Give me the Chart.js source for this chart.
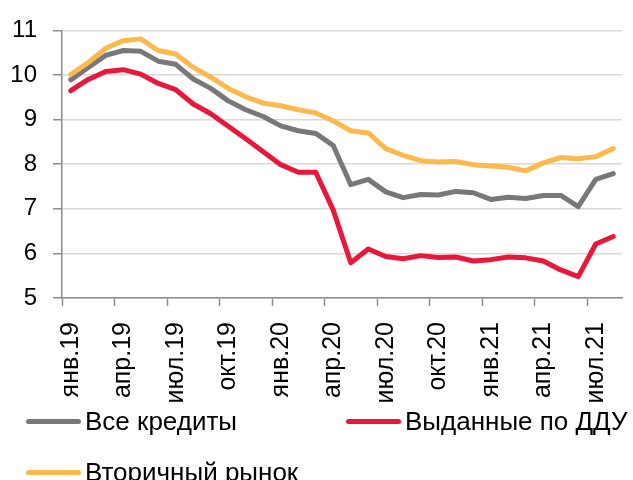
<!DOCTYPE html>
<html lang="ru">
<head>
<meta charset="utf-8">
<script src="https://cdn.jsdelivr.net/npm/chart.js@4"></script>
<style>
  body { margin: 0; background: #fff; }
  .wrap { position: relative; width: 633px; height: 480px; overflow: hidden; font-family: "Liberation Sans", Arial, sans-serif; }
  #legend { position: absolute; left: 26px; top: 409px; display: grid; grid-template-columns: 320px 287px; row-gap: 26px; }
  .item { display: flex; align-items: center; height: 25px; font-size: 26px; white-space: nowrap; color: #000; }
  .swatch { width: 55px; height: 5px; border-radius: 3px; margin-right: 4px; }
</style>
</head>
<body>
<div class="wrap">
  <canvas id="chart" width="633" height="480"></canvas>
  <div id="legend"></div>
</div>
<script>
// months jan 2019 - aug 2021
const months = [
  'янв.19', 'фев.19', 'мар.19', 'апр.19', 'май.19', 'июн.19', 'июл.19', 'авг.19', 'сен.19', 'окт.19', 'ноя.19', 'дек.19',
  'янв.20', 'фев.20', 'мар.20', 'апр.20', 'май.20', 'июн.20', 'июл.20', 'авг.20', 'сен.20', 'окт.20', 'ноя.20', 'дек.20',
  'янв.21', 'фев.21', 'мар.21', 'апр.21', 'май.21', 'июн.21', 'июл.21', 'авг.21'
];

const allLoans = [9.89, 10.17, 10.44, 10.55, 10.53, 10.31, 10.24, 9.91, 9.70, 9.42, 9.22, 9.07,
  8.86, 8.75, 8.69, 8.42, 7.54, 7.66, 7.38, 7.25, 7.32, 7.31, 7.39, 7.36,
  7.21, 7.26, 7.23, 7.30, 7.30, 7.05, 7.66, 7.79];

const dduLoans = [9.65, 9.90, 10.08, 10.12, 10.02, 9.81, 9.67, 9.35, 9.13, 8.85, 8.57, 8.28,
  7.99, 7.82, 7.82, 6.97, 5.79, 6.10, 5.93, 5.88, 5.95, 5.91, 5.92, 5.83,
  5.86, 5.92, 5.90, 5.83, 5.63, 5.48, 6.21, 6.38];

const secondary = [10.01, 10.28, 10.60, 10.77, 10.81, 10.55, 10.47, 10.17, 9.95, 9.70, 9.51, 9.37,
  9.31, 9.22, 9.15, 8.97, 8.75, 8.70, 8.35, 8.20, 8.08, 8.05, 8.06, 7.99,
  7.96, 7.93, 7.85, 8.03, 8.15, 8.12, 8.17, 8.35];

const seriesNames = ['Все кредиты', 'Выданные по ДДУ', 'Вторичный рынок'];
const seriesColors = ['#78787b', '#e8173c', '#fdb94b'];

const axisColor = '#8c8c8c';
const fontFamily = '"Liberation Sans", Arial, sans-serif';

const chart = new Chart(document.getElementById('chart'), {
  type: 'line',
  data: {
    labels: months,
    datasets: [
      { label: seriesNames[0], data: allLoans, borderColor: seriesColors[0], order: 2 },
      { label: seriesNames[1], data: dduLoans, borderColor: seriesColors[1], order: 1 },
      { label: seriesNames[2], data: secondary, borderColor: seriesColors[2], order: 0 }
    ]
  },
  options: {
    responsive: false,
    animation: false,
    layout: { padding: { top: 23, right: 11, left: 0, bottom: 72 } },
    plugins: {
      legend: { display: false },
      tooltip: { enabled: false }
    },
    elements: {
      point: { radius: 0 },
      line: { tension: 0, borderWidth: 5, borderCapStyle: 'round', borderJoinStyle: 'round', fill: false }
    },
    scales: {
      x: {
        offset: true,
        grid: {
          offset: true,
          drawOnChartArea: false,
          tickLength: 8,
          tickWidth: 1.5,
          tickColor: ctx => ctx.index % 3 === 0 ? axisColor : 'rgba(0,0,0,0)'
        },
        border: { color: axisColor, width: 1.5 },
        ticks: {
          autoSkip: false,
          minRotation: 90,
          maxRotation: 90,
          padding: 16,
          color: '#000',
          font: { family: fontFamily, size: 25 },
          callback: (v, i) => i % 3 === 0 ? months[i] : ''
        },
        afterFit: s => {
          s.height = 110;
          s.paddingLeft = 0;
          s.paddingRight = 0;
        }
      },
      y: {
        min: 5,
        max: 11,
        ticks: { stepSize: 1, padding: 16, color: '#000', font: { family: fontFamily, size: 24 } },
        grid: { color: '#d9d9d9', lineWidth: 1.5, tickLength: 9, tickColor: axisColor, tickWidth: 1.5 },
        border: { color: axisColor, width: 1.5 },
        afterFit: s => { s.width = 62; }
      }
    }
  }
});

// html legend, two columns like the original
const legend = document.getElementById('legend');
chart.data.datasets.forEach(ds => {
  const item = document.createElement('div');
  item.className = 'item';
  const sw = document.createElement('span');
  sw.className = 'swatch';
  sw.style.background = ds.borderColor;
  item.appendChild(sw);
  item.appendChild(document.createTextNode(ds.label));
  legend.appendChild(item);
});
</script>
</body>
</html>
